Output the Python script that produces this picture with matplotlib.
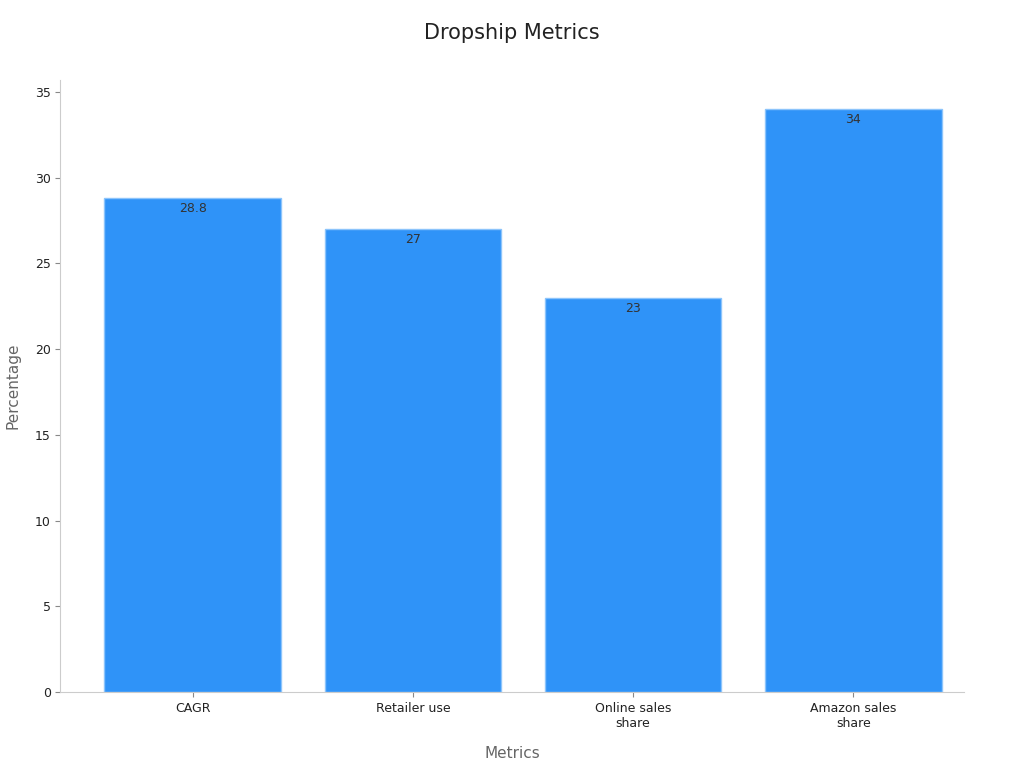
import matplotlib
matplotlib.use("Agg")
import matplotlib.pyplot as plt

categories = ["CAGR", "Retailer use", "Online sales\nshare", "Amazon sales\nshare"]
values = [28.8, 27, 23, 34]
labels = ["28.8", "27", "23", "34"]

fig = plt.figure(figsize=(10.24, 7.68), dpi=100)
ax = fig.add_axes([0.059, 0.099, 0.882, 0.797])
x = range(len(categories))
bars = ax.bar(x, values, width=0.8, color="#2f93f8", edgecolor="#8cc4fb", linewidth=1)
for xi, v, l in zip(x, values, labels):
    ax.text(xi, v - 0.25, l, ha="center", va="top", fontsize=9, color="#333333")
ax.set_xticks(list(x))
ax.set_xticklabels(categories, fontsize=9, color="#222222")
ax.set_xlim(-0.6, 3.5)
ax.set_ylim(0, 35.7)
ax.set_yticks(range(0, 36, 5))
ax.tick_params(axis="y", labelsize=9, colors="#222222")
for s in ["top", "right"]:
    ax.spines[s].set_visible(False)
for s in ["left", "bottom"]:
    ax.spines[s].set_color("#cccccc")
ax.tick_params(color="#888888")
ax.set_xlabel("Metrics", fontsize=11, color="#666666", labelpad=12)
ax.set_ylabel("Percentage", fontsize=11, color="#666666", labelpad=10)
fig.suptitle("Dropship Metrics", fontsize=15, color="#222222", y=0.97)
fig.savefig("out.png")
